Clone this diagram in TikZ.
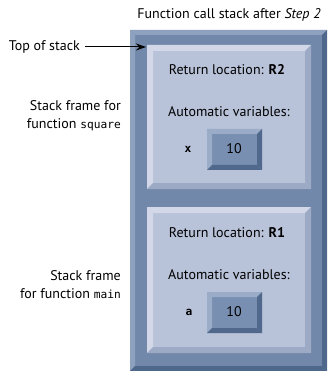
\documentclass[tikz,border=0pt]{standalone}
\usepackage{fontspec}
\setmainfont{PT Sans}
\setmonofont[Scale=0.8]{DejaVu Sans Mono}
\usetikzlibrary{positioning,arrows.meta}

\definecolor{stackface}{RGB}{114,136,170}
\definecolor{stacklight}{RGB}{142,161,191}
\definecolor{stackdark}{RGB}{78,104,140}
\definecolor{frameface}{RGB}{184,194,216}
\definecolor{framelight}{RGB}{210,216,231}
\definecolor{framedark}{RGB}{156,170,197}
\definecolor{valueface}{RGB}{120,143,178}
\definecolor{valuelight}{RGB}{154,172,200}
\definecolor{valuedark}{RGB}{80,104,140}

% bevelled box: (#1,#2) top left, (#3,#4) bottom right, #5 bevel,
% #6 light edge, #7 dark edge, #8 face
\newcommand{\bevelbox}[8]{%
  \fill[#8] (#1,#2) rectangle (#3,#4);
  \fill[#6] (#1,#2) -- (#3,#2) -- (#3-#5,#2+#5) -- (#1+#5,#2+#5) -- cycle;
  \fill[#6] (#1,#2) -- (#1+#5,#2+#5) -- (#1+#5,#4-#5) -- (#1,#4) -- cycle;
  \fill[#7] (#3,#2) -- (#3,#4) -- (#3-#5,#4-#5) -- (#3-#5,#2+#5) -- cycle;
  \fill[#7] (#1,#4) -- (#3,#4) -- (#3-#5,#4-#5) -- (#1+#5,#4-#5) -- cycle;
}

\begin{document}
\begin{tikzpicture}[
    x=1pt,
    y=-1pt,
    txt/.style={font=\fontsize{14}{18}\selectfont,inner sep=0pt},
    sidelabel/.style={txt,align=right,anchor=east},
    pointer/.style={-{Stealth[length=10pt,width=7pt]},line width=1pt}
  ]
    \useasboundingbox (0,0) rectangle (327,371);

    % the stack and its two frames
    \bevelbox{130}{30}{327}{371}{5}{stacklight}{stackdark}{stackface}
    \bevelbox{147}{45}{311}{189}{6}{framelight}{framedark}{frameface}
    \bevelbox{147}{207}{311}{353}{6}{framelight}{framedark}{frameface}
    \bevelbox{207}{129}{262}{170}{5}{valuelight}{valuedark}{valueface}
    \bevelbox{207}{292}{262}{333}{5}{valuelight}{valuedark}{valueface}

    \node[txt] (title) at (229,15) {Function call stack after \textit{Step 2}};

    % labels on the left
    \node[sidelabel] (toplabel) at (80,47) {Top of stack};
    \coordinate (stacktop) at (146,47);
    \draw[pointer] ([xshift=5pt]toplabel.east) -- (stacktop);

    \node[sidelabel] (squarelabel) at (121,116)
      {Stack frame for\\function \texttt{square}};
    \node[sidelabel] (mainlabel) at (121,285)
      {Stack frame\\for function \texttt{main}};

    % frame of square
    \node[txt] (ret2) at (227,70) {Return location: \textbf{R2}};
    \node[txt] (auto2) at (229,112) {Automatic variables:};
    \node[txt] (var2) at (188,149) {\texttt{\bfseries x}};
    \node[txt] (val2) at (234,149) {10};

    % frame of main
    \node[txt] (ret1) at (227,233) {Return location: \textbf{R1}};
    \node[txt] (auto1) at (229,275) {Automatic variables:};
    \node[txt] (var1) at (189,312) {\texttt{\bfseries a}};
    \node[txt] (val1) at (234,312) {10};
\end{tikzpicture}
\end{document}
